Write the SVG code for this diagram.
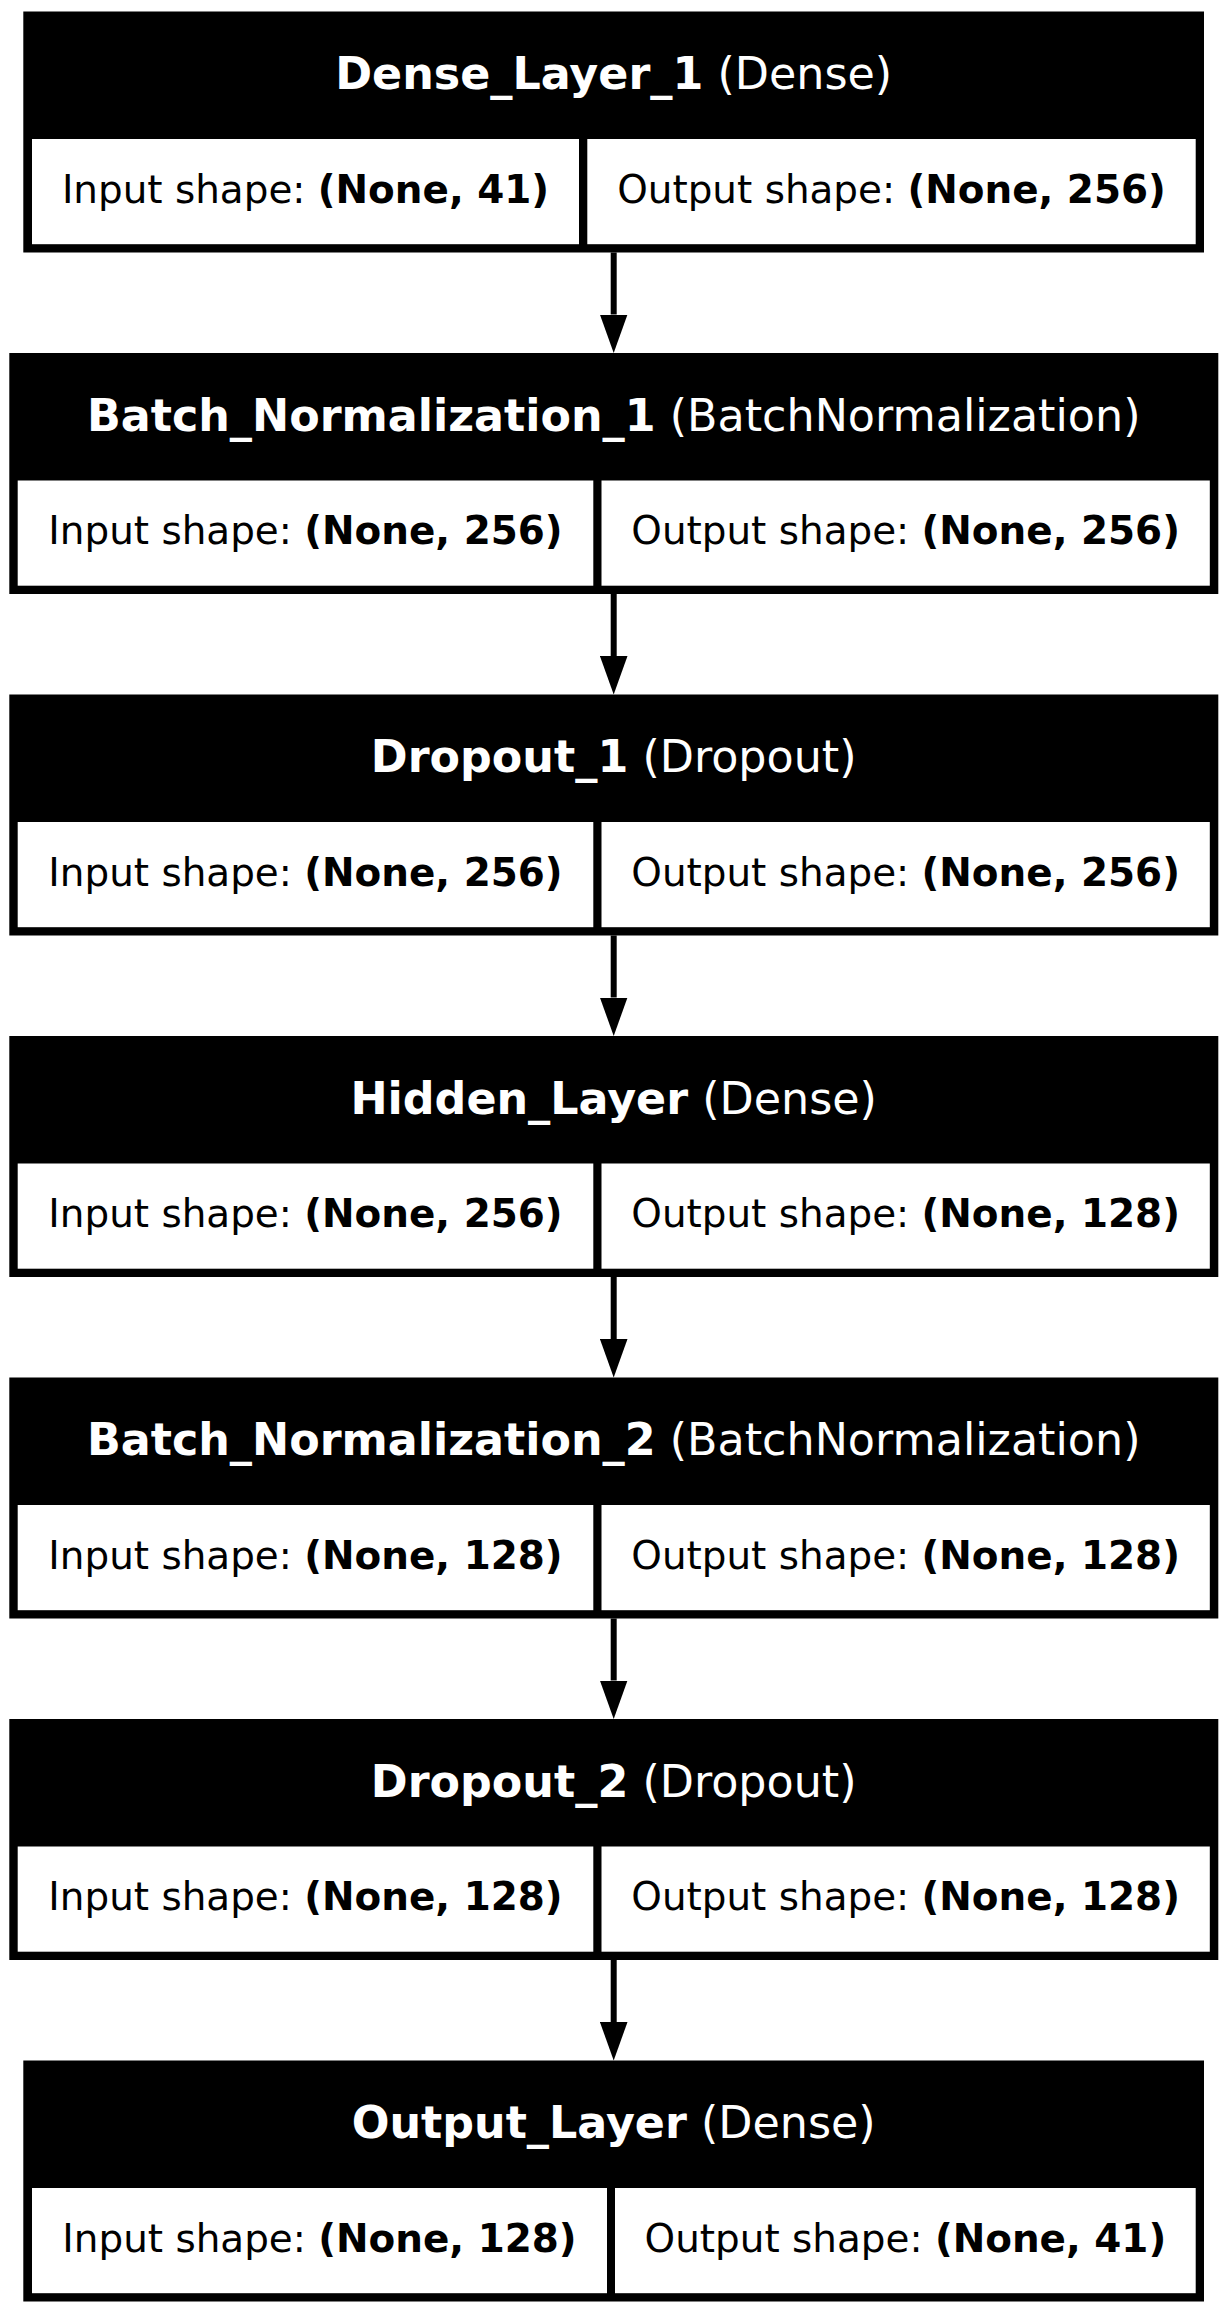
<svg xmlns="http://www.w3.org/2000/svg" width="1228" height="2314" viewBox="0 0 1228 2314">
<style>
  .outer { fill: #000000; }
  .cell { fill: #ffffff; }
  text { font-family: "DejaVu Sans", "Noto Sans", sans-serif; }
  .hdr { fill: #ffffff; font-size: 44.4px; text-anchor: middle; }
  .cl { fill: #000000; font-size: 38.9px; text-anchor: middle; }
  .b { font-weight: bold; }
  .edge { stroke: #000000; stroke-width: 6; fill: none; }
</style>
<defs>
  <marker id="arrow" viewBox="0 0 38.5 27.6" refX="0" refY="13.8" markerWidth="38.5" markerHeight="27.6" markerUnits="userSpaceOnUse" orient="auto">
    <path d="M0,0 L38.5,13.8 L0,27.6 Z" fill="#000000"/>
  </marker>
</defs>
<rect x="0" y="0" width="1228" height="2314" fill="#ffffff"/>

<g id="connectors">
  <line class="edge" x1="613.7" y1="252.5" x2="613.7" y2="314.5" marker-end="url(#arrow)"/>
  <line class="edge" x1="613.7" y1="594" x2="613.7" y2="656" marker-end="url(#arrow)"/>
  <line class="edge" x1="613.7" y1="935.5" x2="613.7" y2="997.5" marker-end="url(#arrow)"/>
  <line class="edge" x1="613.7" y1="1277" x2="613.7" y2="1339" marker-end="url(#arrow)"/>
  <line class="edge" x1="613.7" y1="1618.5" x2="613.7" y2="1680.5" marker-end="url(#arrow)"/>
  <line class="edge" x1="613.7" y1="1960" x2="613.7" y2="2022" marker-end="url(#arrow)"/>
</g>

<g id="node1">
  <rect class="outer" x="23.3" y="11.5" width="1180.7" height="241"/>
  <rect class="cell" x="32" y="139" width="547" height="105.2"/>
  <rect class="cell" x="587.3" y="139" width="608.4" height="105.2"/>
  <text class="hdr" x="613.7" y="89"><tspan class="b">Dense_Layer_1</tspan> (Dense)</text>
  <text class="cl" x="305.5" y="202.5">Input shape: <tspan class="b">(None, 41)</tspan></text>
  <text class="cl" x="891.5" y="202.5">Output shape: <tspan class="b">(None, 256)</tspan></text>
</g>

<g id="node2">
  <rect class="outer" x="9.3" y="353" width="1209" height="241"/>
  <rect class="cell" x="17.7" y="480.5" width="575.6" height="105.2"/>
  <rect class="cell" x="601.5" y="480.5" width="608.3" height="105.2"/>
  <text class="hdr" x="613.7" y="430.5"><tspan class="b">Batch_Normalization_1</tspan> (BatchNormalization)</text>
  <text class="cl" x="305.5" y="544">Input shape: <tspan class="b">(None, 256)</tspan></text>
  <text class="cl" x="905.6" y="544">Output shape: <tspan class="b">(None, 256)</tspan></text>
</g>

<g id="node3">
  <rect class="outer" x="9.3" y="694.5" width="1209" height="241"/>
  <rect class="cell" x="17.7" y="822" width="575.6" height="105.2"/>
  <rect class="cell" x="601.5" y="822" width="608.3" height="105.2"/>
  <text class="hdr" x="613.7" y="772"><tspan class="b">Dropout_1</tspan> (Dropout)</text>
  <text class="cl" x="305.5" y="885.5">Input shape: <tspan class="b">(None, 256)</tspan></text>
  <text class="cl" x="905.6" y="885.5">Output shape: <tspan class="b">(None, 256)</tspan></text>
</g>

<g id="node4">
  <rect class="outer" x="9.3" y="1036" width="1209" height="241"/>
  <rect class="cell" x="17.7" y="1163.5" width="575.6" height="105.2"/>
  <rect class="cell" x="601.5" y="1163.5" width="608.3" height="105.2"/>
  <text class="hdr" x="613.7" y="1113.5"><tspan class="b">Hidden_Layer</tspan> (Dense)</text>
  <text class="cl" x="305.5" y="1227">Input shape: <tspan class="b">(None, 256)</tspan></text>
  <text class="cl" x="905.6" y="1227">Output shape: <tspan class="b">(None, 128)</tspan></text>
</g>

<g id="node5">
  <rect class="outer" x="9.3" y="1377.5" width="1209" height="241"/>
  <rect class="cell" x="17.7" y="1505" width="575.6" height="105.2"/>
  <rect class="cell" x="601.5" y="1505" width="608.3" height="105.2"/>
  <text class="hdr" x="613.7" y="1455"><tspan class="b">Batch_Normalization_2</tspan> (BatchNormalization)</text>
  <text class="cl" x="305.5" y="1568.5">Input shape: <tspan class="b">(None, 128)</tspan></text>
  <text class="cl" x="905.6" y="1568.5">Output shape: <tspan class="b">(None, 128)</tspan></text>
</g>

<g id="node6">
  <rect class="outer" x="9.3" y="1719" width="1209" height="241"/>
  <rect class="cell" x="17.7" y="1846.5" width="575.6" height="105.2"/>
  <rect class="cell" x="601.5" y="1846.5" width="608.3" height="105.2"/>
  <text class="hdr" x="613.7" y="1796.5"><tspan class="b">Dropout_2</tspan> (Dropout)</text>
  <text class="cl" x="305.5" y="1910">Input shape: <tspan class="b">(None, 128)</tspan></text>
  <text class="cl" x="905.6" y="1910">Output shape: <tspan class="b">(None, 128)</tspan></text>
</g>

<g id="node7">
  <rect class="outer" x="23.3" y="2060.5" width="1180.7" height="241"/>
  <rect class="cell" x="32" y="2188" width="575" height="105.2"/>
  <rect class="cell" x="615" y="2188" width="580.7" height="105.2"/>
  <text class="hdr" x="613.7" y="2138"><tspan class="b">Output_Layer</tspan> (Dense)</text>
  <text class="cl" x="319.5" y="2251.5">Input shape: <tspan class="b">(None, 128)</tspan></text>
  <text class="cl" x="905.4" y="2251.5">Output shape: <tspan class="b">(None, 41)</tspan></text>
</g>
</svg>
